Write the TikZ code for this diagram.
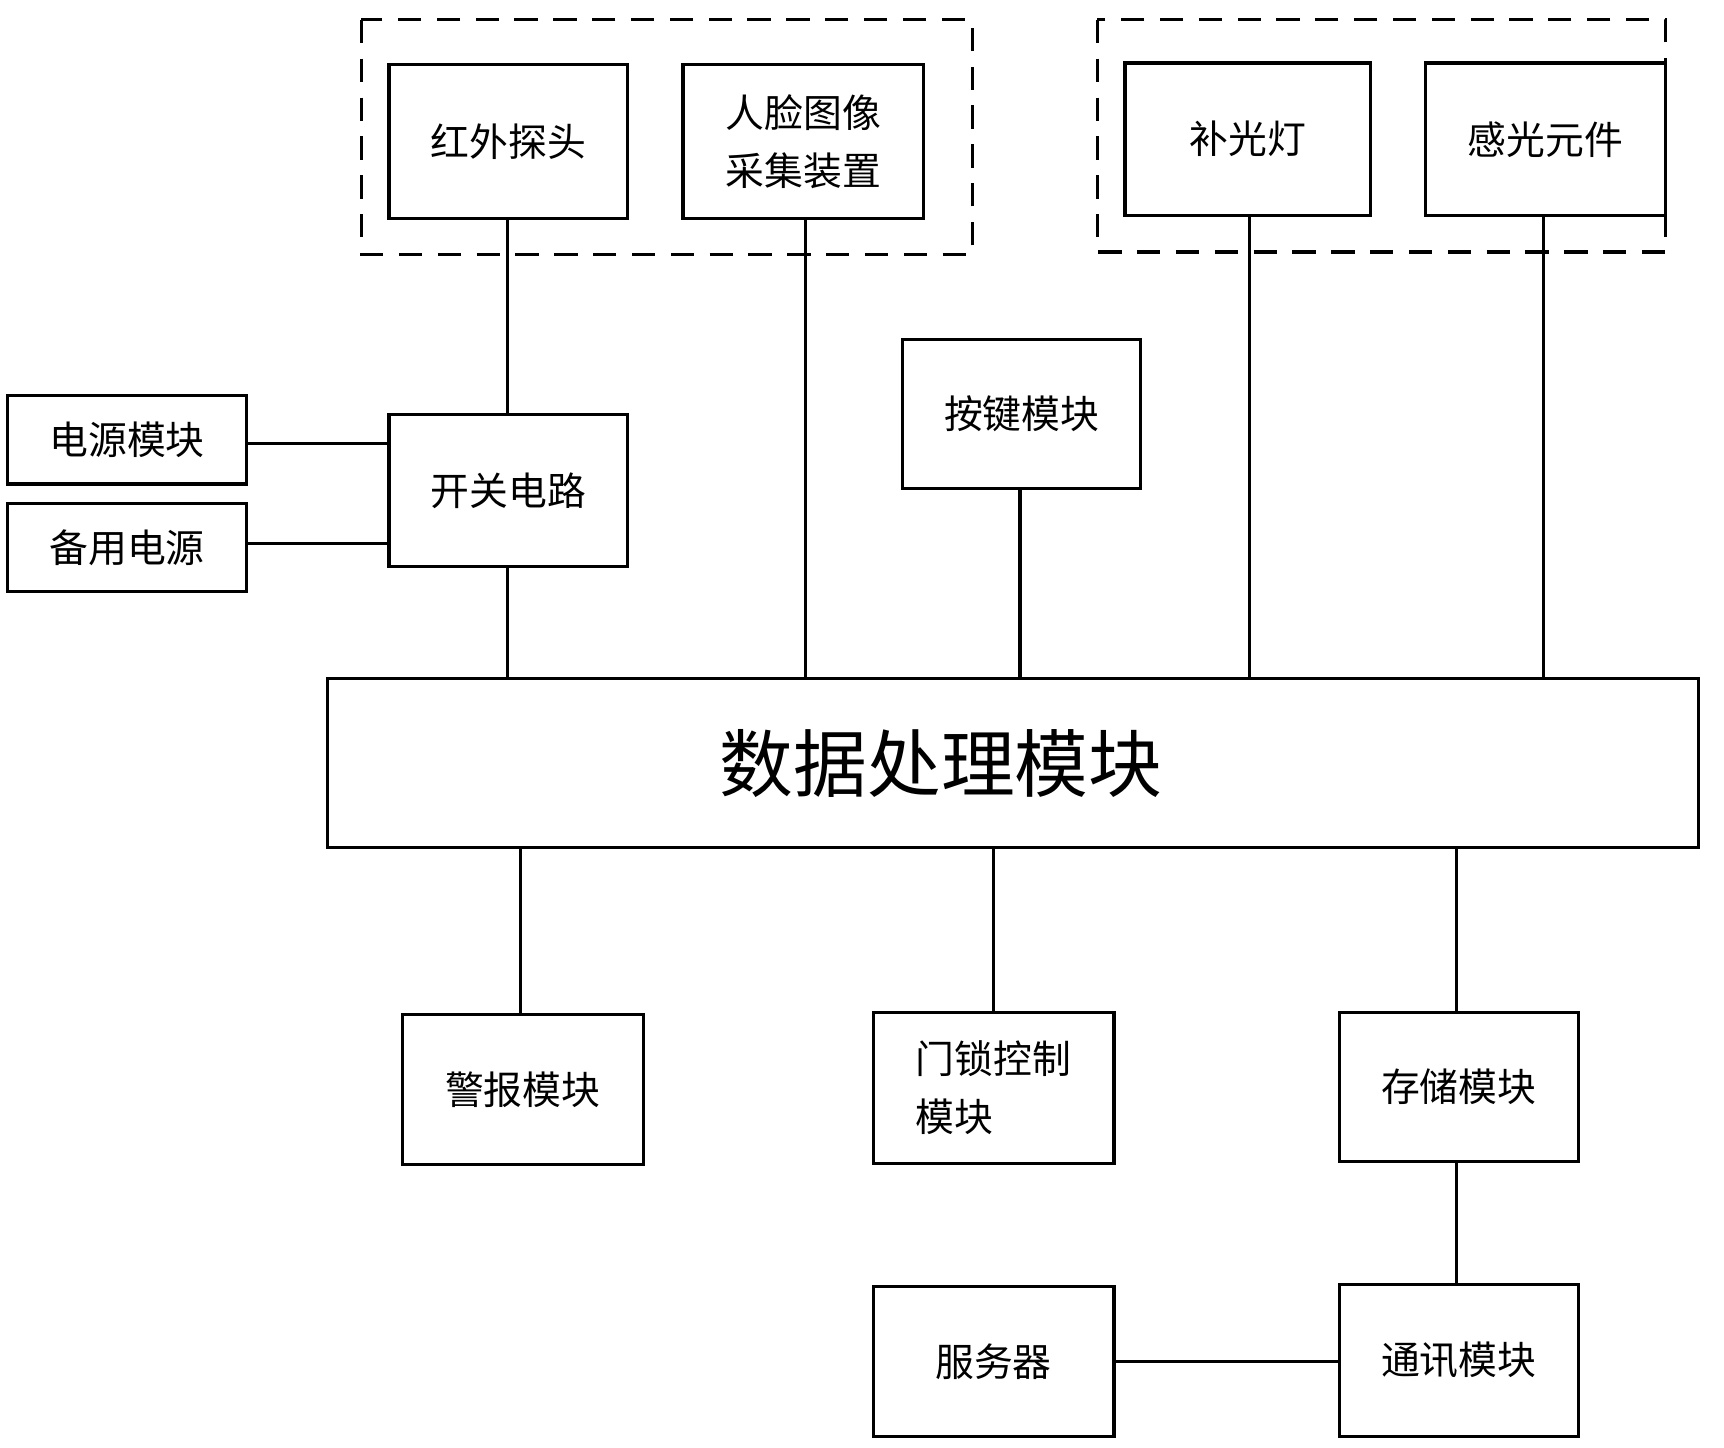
\documentclass[tikz,border=0pt]{standalone}
\usepackage{fontspec}
\setmainfont{Noto Sans CJK SC}
\begin{document}
\begin{tikzpicture}[x=0.02cm,y=-0.02cm,
  box/.style={draw,line width=1.6pt,inner sep=0pt},
  every label/.style={align=center,font=\fontsize{20}{30}\selectfont},
  dbox/.style={draw,line width=1.6pt,dash pattern=on 12pt off 8pt},
  ln/.style={line width=1.6pt}]
\useasboundingbox (0,0) rectangle (1560,1310);
\newcommand\bx[6]{\node[box,#6,minimum width={(#4-#2)*0.02cm},minimum height={(#5-#3)*0.02cm}] (#1) at ({(#2+#4)/2},{(#3+#5)/2}) {};}
\draw[dbox] (327,18) rectangle (880,230);
\draw[dbox] (993,18) rectangle (1507,228);
\bx{hw}{352}{58}{568}{198}{label=center:红外探头}
\bx{face}{618}{58}{836}{198}{label={center:人脸图像\\采集装置}}
\bx{light}{1018}{57}{1240}{195}{label=center:补光灯}
\bx{sens}{1290}{57}{1507}{195}{label=center:感光元件}
\bx{key}{817}{307}{1032}{442}{label=center:按键模块}
\bx{pw}{7}{358}{223}{438}{label=center:电源模块}
\bx{bk}{7}{456}{223}{535}{label=center:备用电源}
\bx{sw}{352}{375}{568}{513}{label=center:开关电路}
\bx{main}{296}{614}{1537}{767}{label={[font=\fontsize{38}{46}\selectfont,xshift=-1.3cm]center:数据处理模块}}
\bx{alarm}{364}{918}{582}{1054}{label=center:警报模块}
\bx{lock}{790}{916}{1008}{1053}{label={[align=left]center:门锁控制\\模块}}
\bx{store}{1212}{916}{1428}{1051}{label=center:存储模块}
\bx{server}{790}{1164}{1008}{1300}{label=center:服务器}
\bx{comm}{1212}{1162}{1428}{1300}{label=center:通讯模块}
\foreach \n/\x in {a/459,b/729,c/923,d/1131,e/1397,f/471,g/899,h/1318}{\coordinate (x\n) at (\x,0);}
\draw[ln] (hw.south -| xa) -- (sw.north -| xa);
\draw[ln] (sw.south -| xa) -- (main.north -| xa);
\draw[ln] (face.south -| xb) -- (main.north -| xb);
\draw[ln] (key.south -| xc) -- (main.north -| xc);
\draw[ln] (light.south -| xd) -- (main.north -| xd);
\draw[ln] (sens.south -| xe) -- (main.north -| xe);
\coordinate (y1) at (0,401); \coordinate (y2) at (0,492);
\draw[ln] (pw.east |- y1) -- (sw.west |- y1);
\draw[ln] (bk.east |- y2) -- (sw.west |- y2);
\draw[ln] (main.south -| xf) -- (alarm.north -| xf);
\draw[ln] (main.south -| xg) -- (lock.north -| xg);
\draw[ln] (main.south -| xh) -- (store.north -| xh);
\draw[ln] (store.south -| xh) -- (comm.north -| xh);
\draw[ln] (server.east) -- (server.east -| comm.west);
\end{tikzpicture}
\end{document}
